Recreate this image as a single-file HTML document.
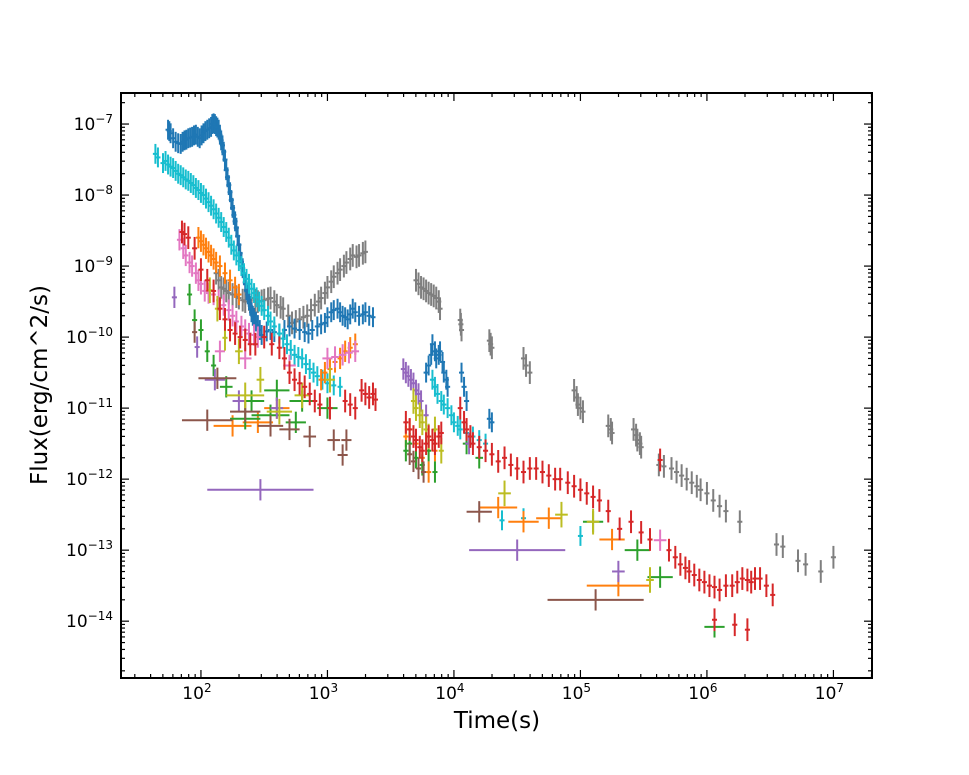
<!DOCTYPE html>
<html><head><meta charset="utf-8"><style>
html,body{margin:0;padding:0;background:#fff;}
svg{display:block;font-family:"DejaVu Sans","Liberation Sans",sans-serif;}
</style></head><body>
<svg id="chart" width="969" height="775" xmlns="http://www.w3.org/2000/svg">
<g id="marks"></g>
<g id="axes"></g>
<text x="497" y="728" font-size="23" text-anchor="middle">Time(s)</text>
<text x="0" y="0" font-size="23" text-anchor="middle" transform="translate(47,385) rotate(-90)">Flux(erg/cm^2/s)</text>
</svg>
<script>
// log10(time) and log10(flux) values
const blueT=[1.74,1.75,1.76,1.78,1.80,1.82,1.84,1.855,1.87,1.885,1.90,1.915,1.93,1.945,1.96,1.975,1.99,2.005,2.02,2.035,2.05,2.065,2.08,2.09,2.10,2.11,2.12,2.13,2.14,2.15,2.16,2.17,2.18,2.19,2.20,2.21,2.22,2.23,2.24,2.25,2.26,2.27,2.28,2.29,2.30,2.31,2.32,2.33,2.34,2.35,2.36,2.37,2.38,2.39,2.40,2.41,2.42,2.435,2.45,2.465,2.48,2.52,2.55,2.58,2.62,2.66,2.70,2.74,2.78,2.82,2.85,2.88,2.92,2.95,2.98,3.00,3.03,3.05,3.08,3.10,3.12,3.14,3.16,3.18,3.20,3.22,3.25,3.28,3.30,3.33,3.36,3.78,3.80,3.82,3.83,3.85,3.86,3.88,3.89,3.91,3.92,3.94,3.95,4.06,4.08,4.10,4.28,4.30];
const blueF=[-7.08,-7.1,-7.13,-7.2,-7.25,-7.27,-7.28,-7.25,-7.23,-7.22,-7.20,-7.19,-7.18,-7.16,-7.15,-7.18,-7.20,-7.16,-7.13,-7.1,-7.08,-7.06,-7.04,-7.0,-6.99,-7.0,-7.03,-7.05,-7.08,-7.15,-7.23,-7.3,-7.39,-7.5,-7.65,-7.75,-7.86,-7.96,-8.07,-8.18,-8.28,-8.37,-8.46,-8.58,-8.70,-8.82,-8.94,-9.03,-9.13,-9.23,-9.34,-9.4,-9.48,-9.56,-9.65,-9.7,-9.73,-9.78,-9.83,-9.9,-9.97,-9.92,-9.90,-9.93,-9.95,-9.9,-9.85,-9.88,-9.90,-9.93,-9.95,-9.9,-9.85,-9.82,-9.80,-9.72,-9.65,-9.62,-9.60,-9.65,-9.70,-9.72,-9.75,-9.68,-9.60,-9.65,-9.70,-9.68,-9.65,-9.7,-9.72,-10.5,-10.4,-10.25,-10.1,-10.2,-10.3,-10.25,-10.2,-10.35,-10.5,-10.6,-10.7,-10.5,-10.7,-10.9,-11.15,-11.2];
const cyanT=[1.64,1.66,1.70,1.72,1.74,1.76,1.78,1.80,1.82,1.84,1.86,1.88,1.90,1.92,1.94,1.96,1.98,2.00,2.02,2.04,2.06,2.08,2.10,2.12,2.14,2.16,2.18,2.20,2.22,2.24,2.26,2.28,2.30,2.32,2.34,2.36,2.38,2.40,2.42,2.44,2.46,2.48,2.50,2.53,2.55,2.58,2.62,2.65,2.68,2.71,2.74,2.77,2.80,2.83,2.86,2.89,2.92,2.96,3.00,3.05,3.10,3.83,3.85,3.87,3.90,3.92,3.95,3.98,4.00,4.03,4.05,4.10,4.15,4.20,4.25,4.38,4.55,5.00];
const cyanF=[-7.42,-7.47,-7.55,-7.52,-7.57,-7.6,-7.62,-7.66,-7.70,-7.72,-7.75,-7.78,-7.80,-7.83,-7.86,-7.9,-7.93,-7.97,-8.00,-8.05,-8.10,-8.15,-8.20,-8.26,-8.32,-8.38,-8.45,-8.52,-8.60,-8.7,-8.78,-8.85,-8.93,-9.0,-9.10,-9.18,-9.25,-9.32,-9.38,-9.44,-9.50,-9.56,-9.62,-9.7,-9.78,-9.85,-9.95,-10.02,-10.1,-10.18,-10.25,-10.28,-10.3,-10.38,-10.45,-10.5,-10.55,-10.6,-10.65,-10.68,-10.7,-10.6,-10.7,-10.8,-10.9,-10.95,-11.0,-11.1,-11.2,-11.25,-11.3,-11.35,-11.4,-11.45,-11.5,-12.58,-12.55,-12.8];
const grayT=[2.12,2.14,2.16,2.18,2.20,2.22,2.25,2.28,2.30,2.33,2.35,2.38,2.40,2.43,2.45,2.48,2.50,2.53,2.55,2.58,2.60,2.63,2.65,2.69,2.72,2.75,2.78,2.81,2.84,2.87,2.90,2.93,2.95,2.98,3.00,3.03,3.05,3.08,3.10,3.13,3.15,3.18,3.20,3.23,3.25,3.28,3.30,3.70,3.72,3.74,3.76,3.78,3.80,3.82,3.84,3.86,3.88,3.89,4.05,4.055,4.06,4.28,4.29,4.30,4.55,4.57,4.60,4.95,4.97,4.98,5.00,5.02,5.22,5.24,5.25,5.42,5.44,5.45,5.47,5.48,5.62,5.66,5.72,5.76,5.80,5.84,5.88,5.92,5.95,6.0,6.05,6.1,6.15,6.26,6.55,6.60,6.72,6.78,6.90,7.00];
const grayF=[-9.1,-9.2,-9.3,-9.32,-9.35,-9.38,-9.4,-9.43,-9.45,-9.48,-9.5,-9.47,-9.45,-9.48,-9.5,-9.49,-9.48,-9.46,-9.45,-9.5,-9.55,-9.58,-9.6,-9.7,-9.8,-9.78,-9.75,-9.72,-9.7,-9.62,-9.55,-9.5,-9.45,-9.38,-9.3,-9.22,-9.15,-9.1,-9.05,-9.0,-8.95,-8.9,-8.85,-8.87,-8.85,-8.82,-8.8,-9.2,-9.25,-9.3,-9.32,-9.35,-9.38,-9.4,-9.42,-9.45,-9.5,-9.6,-9.76,-9.82,-9.9,-10.05,-10.1,-10.15,-10.3,-10.4,-10.5,-10.75,-10.85,-10.95,-11.0,-11.05,-11.25,-11.3,-11.35,-11.3,-11.38,-11.45,-11.5,-11.55,-11.8,-11.82,-11.85,-11.9,-11.95,-12.0,-12.05,-12.1,-12.15,-12.2,-12.3,-12.38,-12.45,-12.6,-12.92,-12.95,-13.15,-13.2,-13.3,-13.1];
const redT=[1.85,1.87,1.90,1.95,2.00,2.05,2.10,2.15,2.19,2.23,2.27,2.31,2.35,2.39,2.43,2.50,2.56,2.62,2.66,2.70,2.74,2.78,2.82,2.86,2.90,2.94,3.02,3.14,3.18,3.22,3.27,3.30,3.33,3.36,3.38,3.62,3.65,3.68,3.70,3.73,3.75,3.78,3.80,3.83,3.85,3.88,3.90,4.05,4.08,4.10,4.13,4.15,4.2,4.25,4.3,4.35,4.4,4.45,4.5,4.55,4.6,4.65,4.7,4.75,4.8,4.84,4.9,4.95,5.0,5.05,5.1,5.15,5.22,5.31,5.40,5.48,5.55,5.63,5.70,5.75,5.79,5.83,5.86,5.9,5.94,5.98,6.02,6.06,6.10,6.15,6.20,6.24,6.28,6.32,6.35,6.38,6.42,6.47,6.52,6.06,6.22,6.32];
const redF=[-8.52,-8.55,-8.6,-8.75,-9.05,-9.2,-9.35,-9.6,-9.75,-9.9,-9.95,-10.0,-10.04,-10.1,-10.1,-10.0,-10.1,-10.15,-10.3,-10.5,-10.6,-10.65,-10.7,-10.8,-10.9,-10.95,-11.0,-10.9,-10.95,-11.0,-10.75,-10.8,-10.85,-10.8,-10.88,-11.2,-11.3,-11.4,-11.45,-11.55,-11.6,-11.5,-11.4,-11.45,-11.5,-11.4,-11.35,-11.0,-11.2,-11.3,-11.4,-11.5,-11.55,-11.6,-11.65,-11.75,-11.7,-11.8,-11.85,-11.9,-11.85,-11.85,-11.9,-11.95,-12.0,-12.0,-12.05,-12.1,-12.15,-12.2,-12.25,-12.3,-12.45,-12.7,-12.6,-12.75,-12.85,-11.73,-13.0,-13.1,-13.2,-13.25,-13.3,-13.35,-13.42,-13.45,-13.5,-13.52,-13.56,-13.5,-13.5,-13.45,-13.4,-13.42,-13.45,-13.4,-13.4,-13.5,-13.63,-13.98,-14.05,-14.12];
const orangeT=[1.98,2.0,2.02,2.04,2.06,2.08,2.10,2.12,2.15,2.19,2.23,2.27,2.30,2.95,2.98,3.02,3.06,3.10,3.14,3.18,3.22,2.25,2.45,2.60,3.62,3.65,3.70,3.75,3.80,3.85,4.35,4.55,4.75,5.25,5.30];
const orangeF=[-8.6,-8.65,-8.7,-8.75,-8.8,-8.85,-8.9,-8.95,-9.0,-9.1,-9.2,-9.3,-9.4,-10.6,-10.5,-10.45,-10.35,-10.3,-10.2,-10.15,-10.1,-11.25,-11.2,-11.0,-11.4,-11.3,-11.5,-11.7,-11.9,-11.6,-12.4,-12.6,-12.55,-12.85,-13.5];
const orangeXE=[0.02,0.02,0.02,0.02,0.02,0.02,0.02,0.02,0.02,0.02,0.02,0.02,0.02,0.02,0.02,0.02,0.02,0.02,0.02,0.02,0.02,0.15,0.12,0.1,0.02,0.02,0.02,0.02,0.02,0.02,0.15,0.12,0.1,0.1,0.25];
const greenT=[1.91,1.95,2.00,2.05,2.10,2.20,2.40,2.60,2.80,3.00,2.55,2.35,2.75,3.62,3.65,3.70,3.75,3.80,3.85,4.10,4.20,5.10,5.45,5.63,6.06];
const greenF=[-9.4,-9.76,-9.9,-10.2,-10.4,-10.7,-10.9,-10.75,-10.9,-11.0,-11.1,-11.15,-11.2,-11.6,-11.5,-11.7,-11.8,-11.6,-11.9,-11.5,-11.7,-12.6,-13.0,-13.38,-14.08];
const greenXE=[0.02,0.02,0.02,0.02,0.02,0.05,0.1,0.1,0.1,0.08,0.15,0.12,0.08,0.02,0.02,0.02,0.02,0.02,0.02,0.03,0.03,0.08,0.1,0.1,0.08];
const purpleT=[1.79,1.97,2.11,2.30,2.60,2.47,3.60,3.62,3.64,3.66,3.68,3.70,3.72,3.74,3.78,4.12,4.50,5.30];
const purpleF=[-9.44,-10.14,-10.6,-10.9,-11.0,-12.15,-10.45,-10.5,-10.55,-10.6,-10.65,-10.75,-10.8,-10.9,-11.1,-11.5,-13.0,-13.3];
const purpleXE=[0.02,0.02,0.08,0.05,0.05,0.42,0.02,0.02,0.02,0.02,0.02,0.02,0.02,0.02,0.02,0.03,0.38,0.05];
const brownT=[1.95,2.13,2.05,2.35,2.55,2.70,2.86,3.05,3.15,3.12,3.65,3.68,3.72,3.76,4.20,5.12];
const brownF=[-9.93,-10.58,-11.17,-11.05,-11.25,-11.3,-11.4,-11.45,-11.45,-11.66,-11.65,-11.75,-11.85,-11.9,-12.46,-13.7];
const brownXE=[0.02,0.15,0.2,0.12,0.1,0.08,0.05,0.05,0.04,0.04,0.02,0.02,0.02,0.02,0.1,0.38];
const pinkT=[1.83,1.86,1.88,1.91,1.93,1.96,1.98,2.0,2.03,2.06,2.10,2.14,2.18,2.22,2.25,2.28,2.32,2.35,2.38,2.42,2.45,2.15,2.35,2.70,3.00,3.06,3.12,3.17,3.22,5.63];
const pinkF=[-8.63,-8.75,-8.85,-8.95,-9.0,-9.1,-9.2,-9.25,-9.35,-9.38,-9.4,-9.48,-9.55,-9.62,-9.7,-9.78,-9.85,-9.9,-9.95,-9.97,-10.0,-10.2,-10.3,-10.4,-10.3,-10.28,-10.25,-10.22,-10.2,-12.86];
const pinkXE=[0.02,0.02,0.02,0.02,0.02,0.02,0.02,0.02,0.02,0.02,0.02,0.02,0.02,0.02,0.02,0.02,0.02,0.02,0.02,0.02,0.02,0.04,0.05,0.05,0.04,0.03,0.03,0.03,0.03,0.05];
const oliveT=[2.07,2.13,2.19,2.30,2.47,2.35,2.62,2.80,3.02,3.68,3.70,3.73,3.75,3.78,3.80,3.85,3.90,4.40,4.85,5.10,5.55];
const oliveF=[-9.34,-9.6,-10.01,-10.2,-10.6,-10.82,-11.05,-10.82,-10.6,-10.9,-11.0,-11.1,-11.2,-11.3,-11.4,-11.3,-11.6,-12.2,-12.5,-12.6,-13.42];
const oliveXE=[0.02,0.02,0.02,0.03,0.03,0.15,0.1,0.06,0.04,0.02,0.02,0.02,0.02,0.02,0.02,0.02,0.02,0.05,0.05,0.05,0.03];
const xTickExps=[2,3,4,5,6,7];
const yTickExps=[-7,-8,-9,-10,-11,-12,-13,-14];

const L=121,R=872,T=93,B=678;
const xMin=1.368,xMax=7.305,yMin=-14.80,yMax=-6.563;
function sx(v){return L+(v-xMin)/(xMax-xMin)*(R-L);}
function sy(v){return B-(v-yMin)/(yMax-yMin)*(B-T);}
const NS="http://www.w3.org/2000/svg";
const marks=document.getElementById('marks');
const axes=document.getElementById('axes');
function line(g,x1,y1,x2,y2,c,w){const l=document.createElementNS(NS,'line');l.setAttribute('x1',x1);l.setAttribute('y1',y1);l.setAttribute('x2',x2);l.setAttribute('y2',y2);l.setAttribute('stroke',c);l.setAttribute('stroke-width',w);g.appendChild(l);return l;}

const series=[
 {n:'gray',c:'#7f7f7f',t:grayT,f:grayF,xe:null,ye:0.16},
 {n:'blue',c:'#1f77b4',t:blueT,f:blueF,xe:null,ye:0.14},
 {n:'cyan',c:'#17becf',t:cyanT,f:cyanF,xe:null,ye:0.14},
 {n:'orange',c:'#ff7f0e',t:orangeT,f:orangeF,xe:orangeXE,ye:0.15},
 {n:'green',c:'#2ca02c',t:greenT,f:greenF,xe:greenXE,ye:0.15},
 {n:'purple',c:'#9467bd',t:purpleT,f:purpleF,xe:purpleXE,ye:0.15},
 {n:'brown',c:'#8c564b',t:brownT,f:brownF,xe:brownXE,ye:0.15},
 {n:'pink',c:'#e377c2',t:pinkT,f:pinkF,xe:pinkXE,ye:0.15},
 {n:'olive',c:'#bcbd22',t:oliveT,f:oliveF,xe:oliveXE,ye:0.18},
 {n:'red',c:'#d62728',t:redT,f:redF,xe:null,ye:0.16}
];
series.forEach(s=>{
 const g=document.createElementNS(NS,'g');
 
 
 marks.appendChild(g);
 for(let i=0;i<s.t.length;i++){
  const xe=s.xe?s.xe[i]:0.02;
  const x=sx(s.t[i]),y=sy(s.f[i]);
  const v=line(g,x,sy(s.f[i]-s.ye),x,sy(s.f[i]+s.ye),s.c,2);
  
  
  const h=line(g,sx(s.t[i]-xe),y,sx(s.t[i]+xe),y,s.c,2);
  
  
 }
});

const fr=document.createElementNS(NS,'rect');
fr.setAttribute('x',L);fr.setAttribute('y',T);fr.setAttribute('width',R-L);fr.setAttribute('height',B-T);
fr.setAttribute('fill','none');fr.setAttribute('stroke','#000');fr.setAttribute('stroke-width',2);


axes.appendChild(fr);
for(let d=1;d<=7;d++){for(let m=1;m<10;m++){const v=d+Math.log10(m);if(v<xMin||v>xMax)continue;const x=sx(v);const len=m===1?8:4;
 line(axes,x,B,x,B-len,'#000',1.2);line(axes,x,T,x,T+len,'#000',1.2);}}
for(let d=-15;d<=-6;d++){for(let m=1;m<10;m++){const v=d+Math.log10(m);if(v<yMin||v>yMax)continue;const y=sy(v);const len=m===1?8:4;
 line(axes,L,y,L+len,y,'#000',1.2);line(axes,R,y,R-len,y,'#000',1.2);}}
xTickExps.forEach(e=>{
 const t=document.createElementNS(NS,'text');
 
 
 t.setAttribute('x',sx(e)-4);t.setAttribute('y',B+21);t.setAttribute('font-size','17');t.setAttribute('text-anchor','middle');
 t.innerHTML='10<tspan dy="-7" font-size="12">'+e+'</tspan>';
 axes.appendChild(t);
});
yTickExps.forEach(e=>{
 const t=document.createElementNS(NS,'text');
 
 
 t.setAttribute('x',L-8);t.setAttribute('y',sy(e)+6);t.setAttribute('font-size','17');t.setAttribute('text-anchor','end');
 t.innerHTML='10<tspan dy="-7" font-size="12">\u2212'+Math.abs(e)+'</tspan>';
 axes.appendChild(t);
});
</script>
</body></html>
